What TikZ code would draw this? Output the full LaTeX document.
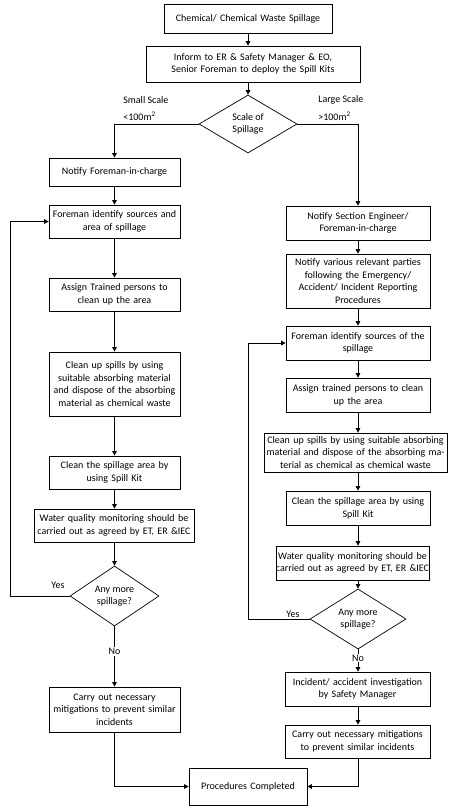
\documentclass[tikz,border=0pt]{standalone}
\usepackage{fontspec}
\setmainfont{Carlito}
\usetikzlibrary{shapes.geometric,arrows.meta}
\begin{document}
\begin{tikzpicture}[x=1pt,y=-1pt,>={Triangle[length=4.5pt,width=4.5pt]},line width=0.7pt,
        box/.style={draw, rectangle, align=center, inner xsep=0pt, inner ysep=0pt, font=\fontsize{10}{12.7}\selectfont},
        choice/.style={draw, diamond, align=center, inner sep=0pt, font=\fontsize{10}{12.7}\selectfont},
        lbl/.style={inner sep=0pt, font=\fontsize{10}{12.7}\selectfont}]
        \useasboundingbox (0,0) rectangle (473,811);
        \node (start) [box, text width=168pt, minimum height=29pt] at (248,18.5) {Chemical/ Chemical Waste Spillage};
        \node (inform) [box, text width=214pt, minimum height=36pt] at (253,64) {Inform to ER \& Safety Manager \& EO,\\Senior Foreman to deploy the Spill Kits};
        \node (scale) [choice, minimum width=98pt, minimum height=58pt] at (248,124) {Scale of\\Spillage};

        \node (notifyF) [box, text width=131pt, minimum height=28pt] at (114.5,172) {Notify Foreman-in-charge};
        \node (identL) [box, text width=131pt, minimum height=33pt] at (114.5,221.5) {Foreman identify sources and\\area of spillage};
        \node (assignL) [box, text width=131pt, minimum height=33pt] at (114.5,294.5) {Assign Trained persons to\\clean up the area};
        \node (cleanupL) [box, text width=131pt, minimum height=64pt] at (114.5,384) {Clean up spills by using\\suitable absorbing material\\and dispose of the absorbing\\material as chemical waste};
        \node (areaL) [box, text width=131pt, minimum height=33pt] at (114.5,472.5) {Clean the spillage area by\\using Spill Kit};
        \node (waterL) [box, text width=164pt, inner xsep=-2pt, minimum height=33pt] at (114,525.5) {Water quality monitoring should be\\carried out as agreed by ET, ER \&IEC};
        \node (moreL) [choice, minimum width=89pt, minimum height=57pt] at (114.5,596) {Any more\\spillage?};
        \node (carryL) [box, text width=131pt, minimum height=45pt] at (114.5,709.5) {Carry out necessary\\mitigations to prevent similar\\incidents};

        \node (notifySE) [box, text width=144pt, minimum height=34pt] at (358,223) {Notify Section Engineer/\\Foreman-in-charge};
        \node (notifyV) [box, text width=144pt, minimum height=54pt] at (358,281) {Notify various relevant parties\\following the Emergency/\\Accident/ Incident Reporting\\Procedures};
        \node (identR) [box, text width=144pt, minimum height=34pt] at (358,343) {Foreman identify sources of the\\spillage};
        \node (assignR) [box, text width=144pt, minimum height=34pt] at (358,395) {Assign trained persons to clean\\up the area};
        \node (cleanupR) [box, text width=183pt, minimum height=39pt] at (355.5,452.5) {Clean up spills by using suitable absorbing\\material and dispose of the absorbing ma-\\terial as chemical as chemical waste};
        \node (areaR) [box, text width=144pt, minimum height=34pt] at (358,508) {Clean the spillage area by using\\Spill Kit};
        \node (waterR) [box, text width=163pt, inner xsep=-5pt, minimum height=34pt] at (352.5,563) {Water quality monitoring should be\\carried out as agreed by ET, ER \&IEC};
        \node (moreR) [choice, minimum width=96pt, minimum height=58pt] at (358,619) {Any more\\spillage?};
        \node (incident) [box, text width=145pt, minimum height=34pt] at (357.5,689) {Incident/ accident investigation\\by Safety Manager};
        \node (carryR) [box, text width=145pt, minimum height=33pt] at (357.5,741.5) {Carry out necessary mitigations\\to prevent similar incidents};

        \node (done) [box, text width=118pt, minimum height=37pt] at (248,786.5) {Procedures Completed};

        \node (smallA) [lbl, anchor=west] at (123,100) {Small Scale};
        \node (smallB) [lbl, anchor=west] at (123,116) {<100m\textsuperscript{2}};
        \node (largeA) [lbl, anchor=west] at (318,100) {Large Scale};
        \node (largeB) [lbl, anchor=west] at (318,116) {>100m\textsuperscript{2}};
        \node (yesL) [lbl] at (58,585) {Yes};
        \node (yesR) [lbl] at (293,614) {Yes};
        \coordinate (loopL) at (10,596);
        \coordinate (loopR) at (248,619);

        \draw[->] (start) -- (start |- inform.north);
        \draw[->] (scale |- inform.south) -- (scale.north);
        \draw[->] (scale.west) -| (notifyF.north);
        \draw[->] (scale.east) -| (notifySE.north);
        \draw[->] (notifyF) -- (identL);
        \draw[->] (identL) -- (assignL);
        \draw[->] (assignL) -- (cleanupL);
        \draw[->] (cleanupL) -- (areaL);
        \draw[->] (areaL) -- (areaL |- waterL.north);
        \draw[->] (areaL |- waterL.south) -- (moreL.north);
        \draw[->] (moreL.west) -- (loopL) |- (identL.west);
        \draw[->] (moreL.south) -- node[pos=0.42, fill=white, lbl, inner sep=1pt]{No} (carryL.north);
        \draw[->] (notifySE) -- (notifyV);
        \draw[->] (notifyV) -- (identR);
        \draw[->] (identR) -- (assignR);
        \draw[->] (assignR) -- (assignR |- cleanupR.north);
        \draw[->] (assignR |- cleanupR.south) -- (areaR);
        \draw[->] (areaR) -- (areaR |- waterR.north);
        \draw[->] (areaR |- waterR.south) -- (moreR.north);
        \draw[->] (moreR.west) -- (loopR) |- (identR.west);
        \draw[->] (moreR.south) -- node[pos=0.38, fill=white, lbl, inner sep=1pt]{No} (moreR |- incident.north);
        \draw[->] (moreR |- incident.south) -- (moreR |- carryR.north);
        \draw[->] (carryL.south) |- (done.west);
        \draw[->] (moreR |- carryR.south) |- (done.east);
    \end{tikzpicture}
\end{document}
